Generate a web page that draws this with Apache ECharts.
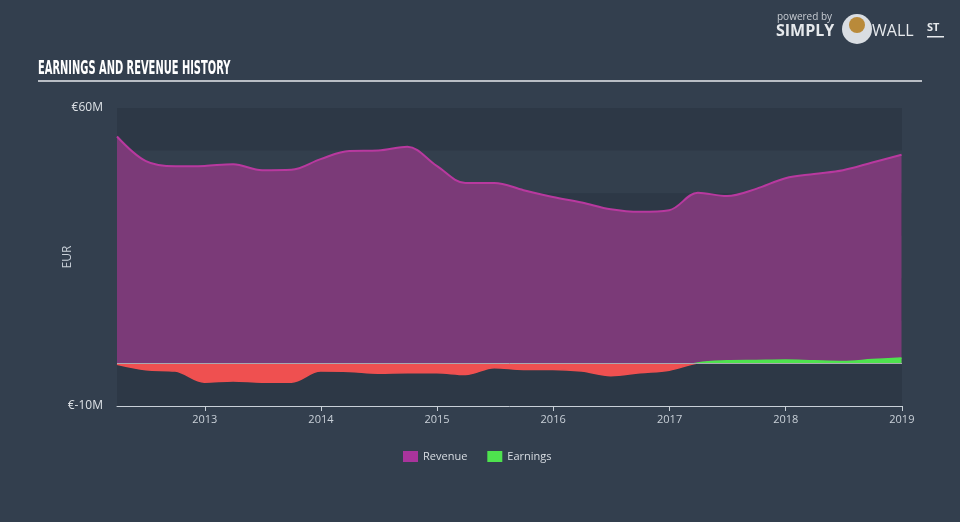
<!DOCTYPE html>
<html><head><meta charset="utf-8">
<script src="https://cdn.jsdelivr.net/npm/echarts@6/dist/echarts.min.js"></script>
<style>html,body{margin:0;padding:0;background:#333f4e;}#c{width:960px;height:522px;}</style>
</head><body><div id="c"></div>
<script>
const dates = ['2012-03-31','2012-06-30','2012-09-30','2012-12-31','2013-03-31','2013-06-30','2013-09-30','2013-12-31',
 '2014-03-31','2014-06-30','2014-09-30','2014-12-31','2015-03-31','2015-06-30','2015-09-30','2015-12-31',
 '2016-03-31','2016-06-30','2016-09-30','2016-12-31','2017-03-31','2017-06-30','2017-09-30','2017-12-31',
 '2018-03-31','2018-06-30','2018-09-30','2018-12-31'];
const revenue = [53.3,47.5,46.3,46.4,46.8,45.4,45.5,48.0,49.9,50.0,50.9,46.4,42.4,42.4,40.7,39.1,37.8,36.2,35.6,36.0,40.1,39.3,41.0,43.5,44.5,45.4,47.2,49.0];
const earnings = [-0.2,-1.5,-1.8,-4.4,-4.1,-4.4,-4.4,-1.8,-1.9,-2.3,-2.2,-2.2,-2.6,-1.0,-1.4,-1.4,-1.8,-2.9,-2.2,-1.6,0.1,0.6,0.7,0.8,0.6,0.45,0.9,1.3];
const yTickLabels = {'60':'€60M','-10':'€-10M'};

const chart = echarts.init(document.getElementById('c'), null, {renderer:'canvas'});
const rev = dates.map((d,i)=>[d, revenue[i]]);
const ear = dates.map((d,i)=>[d, earnings[i]]);
const YEAR = 365.25*24*3600*1000;
chart.setOption({
  backgroundColor: '#333f4e',
  animation: false,
  grid: {left:117, right:58, top:108, bottom:116, show:true, backgroundColor:'#2f3b49', borderWidth:0},
  legend: {left:398, top:446, itemWidth:15, itemHeight:11, itemGap:20,
    textStyle:{color:'#d8dde3', fontFamily:'Open Sans', fontSize:11},
    data:[{name:'Revenue', icon:'rect', itemStyle:{color:'#a9349c'}},
          {name:'Earnings', icon:'rect', itemStyle:{color:'#4ee24e'}}]},
  visualMap: {show:false, type:'piecewise', seriesIndex:1, dimension:1,
    pieces:[{gte:-20, lt:0, color:'#ef5050'},{gte:0, lte:20, color:'#4ee24e'}]},
  xAxis: {type:'time', min:'2012-03-31', max:'2019-01-01 12:00:00', minInterval:YEAR, maxInterval:YEAR,
    axisLine:{onZero:false, lineStyle:{color:'#c9d0d8', width:1}},
    axisTick:{show:true, length:5, lineStyle:{color:'#c9d0d8'}},
    axisLabel:{color:'#c9d0d8', fontFamily:'Open Sans', fontSize:11, margin:8, formatter:'{yyyy}'},
    splitLine:{show:false}},
  yAxis: {type:'value', min:-10, max:60, interval:10,
    name:'EUR', nameLocation:'middle', nameGap:43, nameRotate:90, nameMoveOverlap:false,
    nameTextStyle:{color:'#c9d0d8', fontFamily:'Open Sans', fontSize:12},
    axisLine:{show:false}, axisTick:{show:false},
    axisLabel:{color:'#dde1e6', fontFamily:'Open Sans', fontSize:12, margin:14,
      formatter:v=>yTickLabels[String(v)]||''},
    splitLine:{show:false},
    splitArea:{show:true, areaStyle:{color:['rgba(0,0,0,0.04)','rgba(255,255,255,0.025)']}}},
  graphic: [
    {type:'text', x:38, y:59, scaleX:0.55, style:{text:'EARNINGS AND REVENUE HISTORY', fill:'#ffffff',
      font:'bold 20px "DejaVu Sans Condensed"', textVerticalAlign:'top'}},
    {type:'rect', left:38, top:80, shape:{width:884, height:2}, style:{fill:'#b9bec5'}},
    {type:'text', left:777, top:12, style:{text:'powered by', fill:'#c7ccd3', font:'10px "Open Sans"'}},
    {type:'text', left:776, top:23, style:{text:'SIMPLY', fill:'#e6e9ec', font:'bold 16px "Open Sans"'}},
    {type:'circle', shape:{cx:857, cy:29, r:15}, style:{fill:'#d9dde2'}},
    {type:'circle', shape:{cx:857, cy:25, r:8}, style:{fill:'#b98a3a'}},
    {type:'text', left:872, top:23, style:{text:'WALL', fill:'#e6e9ec', font:'16px "Open Sans"'}},
    {type:'text', left:927, top:22, style:{text:'ST', fill:'#e6e9ec', font:'bold 11px "Open Sans"'}},
    {type:'rect', left:927, top:36, shape:{width:17, height:1.5}, style:{fill:'#e6e9ec'}}
  ],
  series: [
    {name:'Revenue', type:'line', data:rev, smooth:0.35, symbol:'none', z:2,
      lineStyle:{color:'#b8399f', width:2},
      itemStyle:{color:'#a9349c'},
      areaStyle:{color:'#7b3a78', opacity:1}},
    {name:'Earnings', type:'line', data:ear, smooth:0.35, symbol:'none', z:3,
      lineStyle:{width:1.5},
      itemStyle:{color:'#4ee24e'},
      areaStyle:{opacity:1},
      markLine:{silent:true, symbol:'none', label:{show:false},
        lineStyle:{color:'#a8a8b0', type:'solid', width:1}, data:[{yAxis:0}]}}
  ]
});
</script></body></html>
